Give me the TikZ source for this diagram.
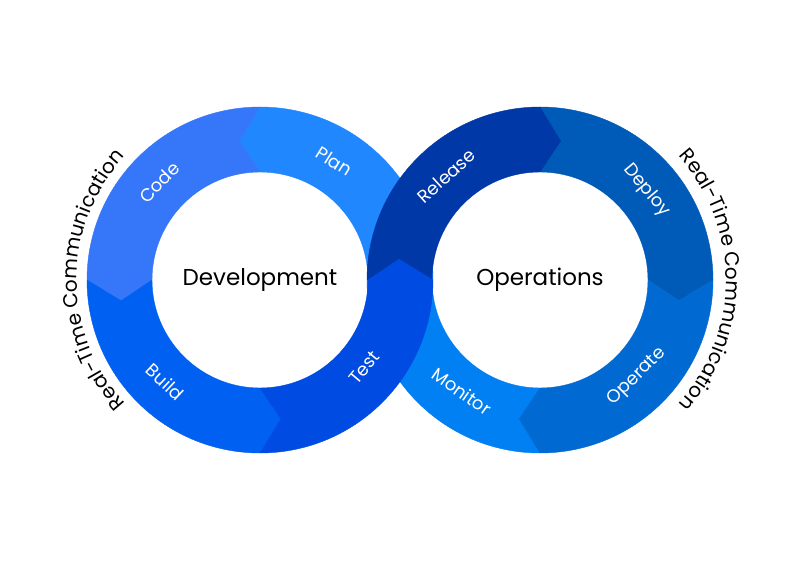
\documentclass[tikz,border=0pt]{standalone}
\usepackage{fontspec}
\setmainfont{Poppins}
\usetikzlibrary{decorations.text}
\definecolor{cPlan}{HTML}{2187FF}
\definecolor{cCode}{HTML}{3577F8}
\definecolor{cBuild}{HTML}{0060F2}
\definecolor{cTest}{HTML}{004BE2}
\definecolor{cRelease}{HTML}{0038A8}
\definecolor{cDeploy}{HTML}{005BB8}
\definecolor{cOperate}{HTML}{006AD2}
\definecolor{cMonitor}{HTML}{0080F2}
% #1,#2 centre; #3 start angle; #4 end angle; #5 start vertex offset; #6 end vertex offset; #7 colour
\newcommand\ringseg[7]{%
  \fill[#7, draw=#7, line width=0.4pt, line join=round]
    ({#1+173*cos(#3)},{#2+173*sin(#3)}) arc[start angle=#3, end angle=#4, radius=173pt]
    -- ({#1+140.5*cos(#4+#6)},{#2+140.5*sin(#4+#6)})
    -- ({#1+108*cos(#4)},{#2+108*sin(#4)}) arc[start angle=#4, end angle=#3, radius=108pt]
    -- ({#1+140.5*cos(#3+#5)},{#2+140.5*sin(#3+#5)}) -- cycle;}
\tikzset{
  seglabel/.style={text=white, font=\fontsize{18}{18}\selectfont, inner sep=0pt},
  hub/.style={text=black, font=\fontsize{23}{23}\selectfont, inner sep=0pt},
}
\begin{document}
\begin{tikzpicture}[x=1pt, y=1pt]
\useasboundingbox (0,0) rectangle (800,560);
\fill[white] (0,0) rectangle (800,560);
\coordinate (L) at (260,280);
\coordinate (R) at (540,280);
% left ring (counter-clockwise flow)
\ringseg{260}{280}{0}{90}{8.5}{8.5}{cPlan}
\ringseg{260}{280}{90}{180}{8.5}{8.5}{cCode}
\ringseg{260}{280}{180}{270}{8.5}{8.5}{cBuild}
% right ring (clockwise flow)
\ringseg{540}{280}{-90}{-180}{-8.5}{-8.5}{cMonitor}
\ringseg{540}{280}{90}{0}{-8.5}{-8.5}{cDeploy}
\ringseg{540}{280}{0}{-90}{-8.5}{-8.5}{cOperate}
\ringseg{540}{280}{180}{90}{0}{-8.5}{cRelease}
\ringseg{260}{280}{270}{360}{8.5}{8.5}{cTest}
% segment labels
\node[seglabel, rotate=46]  (code)    at ([shift={(136:140pt)}]L) {Code};
\node[seglabel, rotate=-32] (plan)    at ([shift={(58:140pt)}]L)  {Plan};
\node[seglabel, rotate=-43] (build)   at ([shift={(227:139pt)}]L) {Build};
\node[seglabel, rotate=50]  (test)    at ([shift={(-40:136pt)}]L) {Test};
\node[seglabel, rotate=42]  (release) at ([shift={(132:140pt)}]R) {Release};
\node[seglabel, rotate=-50] (deploy)  at ([shift={(40:139pt)}]R)  {Deploy};
\node[seglabel, rotate=45]  (operate) at ([shift={(-45:137pt)}]R) {Operate};
\node[seglabel, rotate=-35] (monitor) at ([shift={(235:136pt)}]R) {Monitor};
% hubs
\node[hub] (dev) at (L) {Development};
\node[hub] (ops) at (R) {Operations};
% curved side texts
\path[decorate, decoration={text along path, text align=center,
  text={|\fontsize{20}{20}\selectfont|Real-Time Communication}}]
  ({260+183*cos(230)},{280+183*sin(230)}) arc[start angle=230, end angle=130, radius=183pt];
\path[decorate, decoration={text along path, text align=center,
  text={|\fontsize{20}{20}\selectfont|Real-Time Communication}}]
  ({540+186*cos(50)},{280+186*sin(50)}) arc[start angle=50, end angle=-50, radius=186pt];
\end{tikzpicture}
\end{document}
